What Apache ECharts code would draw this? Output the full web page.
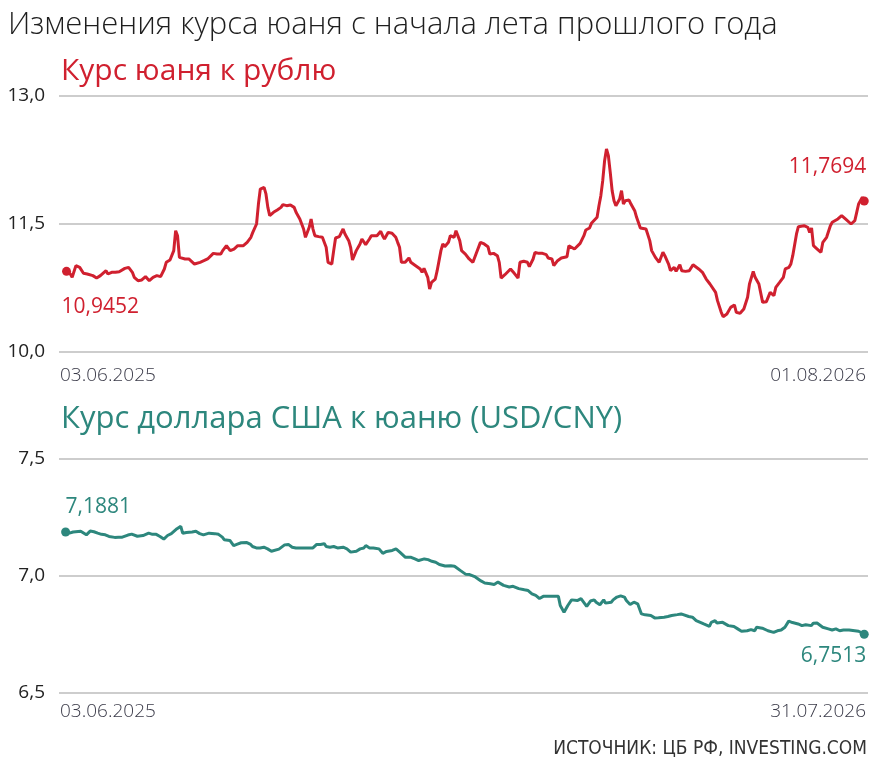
<!DOCTYPE html>
<html>
<head>
<meta charset="utf-8">
<script src="https://cdn.jsdelivr.net/npm/echarts@6/dist/echarts.min.js"></script>
<style>
  html, body { margin: 0; padding: 0; background: #fff; }
  #chart { width: 881px; height: 773px; }
</style>
</head>
<body>
<div id="chart"></div>
<script>
// курс юаня к рублю: день от 03.06.2025 и значение
const rubDays = [0, 2, 3, 5, 7, 9, 11, 12, 14, 16, 18, 19, 21, 22, 24, 26, 28, 31, 33, 35, 36, 38, 40, 42, 44, 46, 48, 50, 52, 53, 55, 57, 58, 59, 60, 63, 65, 66, 68, 69, 71, 73, 75, 76, 78, 80, 82, 83, 85, 87, 89, 91, 92, 94, 96, 98, 99, 101, 102, 103, 105, 106, 107, 108, 110, 112, 114, 115, 117, 119, 121, 122, 124, 126, 127, 128, 129, 130, 131, 132, 134, 136, 138, 139, 141, 142, 143, 145, 147, 148, 150, 151, 152, 154, 155, 156, 157, 159, 161, 162, 165, 167, 168, 169, 171, 173, 175, 176, 177, 178, 180, 182, 183, 185, 186, 188, 189, 190, 192, 193, 194, 196, 197, 199, 200, 201, 203, 204, 206, 207, 208, 209, 210, 212, 213, 214, 216, 217, 218, 220, 222, 224, 225, 227, 229, 230, 231, 233, 236, 238, 240, 241, 243, 245, 246, 248, 249, 251, 253, 255, 256, 258, 259, 261, 263, 264, 266, 267, 268, 270, 271, 273, 275, 276, 278, 279, 280, 282, 283, 284, 285, 286, 287, 288, 289, 290, 291, 292, 293, 294, 295, 296, 297, 299, 300, 302, 303, 305, 306, 308, 310, 311, 313, 315, 316, 317, 318, 320, 321, 323, 324, 326, 327, 329, 331, 333, 334, 336, 338, 340, 342, 343, 345, 346, 348, 349, 351, 353, 355, 356, 358, 360, 362, 363, 365, 366, 368, 370, 372, 373, 374, 376, 377, 379, 380, 381, 382, 384, 385, 386, 388, 389, 390, 392, 394, 395, 396, 397, 398, 399, 401, 402, 403, 404, 406, 407, 408, 410, 412, 413, 414, 415, 417, 419, 420, 421, 423, 424]
const rubValues = [10.9452, 10.914, 10.875, 11.012, 10.992, 10.922, 10.914, 10.906, 10.895, 10.867, 10.895, 10.875, 10.953, 10.914, 10.934, 10.934, 10.941, 10.98, 10.992, 10.934, 10.875, 10.836, 10.844, 10.883, 10.836, 10.875, 10.895, 10.883, 10.973, 11.051, 11.078, 11.188, 11.422, 11.363, 11.109, 11.09, 11.09, 11.109, 11.031, 11.051, 11.051, 11.07, 11.09, 11.109, 11.156, 11.148, 11.148, 11.188, 11.246, 11.188, 11.207, 11.246, 11.266, 11.246, 11.285, 11.344, 11.402, 11.5, 11.734, 11.91, 11.93, 11.852, 11.695, 11.598, 11.637, 11.664, 11.695, 11.727, 11.715, 11.723, 11.695, 11.637, 11.559, 11.441, 11.344, 11.363, 11.461, 11.559, 11.441, 11.363, 11.352, 11.344, 11.227, 11.051, 11.031, 11.188, 11.336, 11.352, 11.441, 11.383, 11.305, 11.227, 11.078, 11.188, 11.188, 11.266, 11.324, 11.258, 11.324, 11.363, 11.363, 11.414, 11.363, 11.324, 11.402, 11.391, 11.344, 11.285, 11.227, 11.051, 11.051, 11.102, 11.051, 11.02, 11.0, 10.973, 10.934, 10.98, 10.875, 10.738, 10.816, 10.855, 10.953, 11.188, 11.266, 11.234, 11.285, 11.363, 11.344, 11.422, 11.441, 11.305, 11.188, 11.148, 11.168, 11.09, 11.051, 11.051, 11.168, 11.285, 11.266, 11.234, 11.148, 11.156, 11.129, 11.051, 10.867, 10.906, 10.973, 10.922, 10.867, 11.051, 11.063, 11.051, 11.0, 11.09, 11.168, 11.156, 11.156, 11.141, 11.102, 11.09, 11.012, 11.07, 11.102, 11.109, 11.117, 11.246, 11.234, 11.207, 11.227, 11.273, 11.363, 11.43, 11.453, 11.508, 11.508, 11.578, 11.715, 11.832, 12.008, 12.242, 12.379, 12.301, 12.105, 11.891, 11.773, 11.715, 11.703, 11.793, 11.891, 11.734, 11.773, 11.781, 11.734, 11.656, 11.578, 11.453, 11.469, 11.441, 11.305, 11.188, 11.109, 11.051, 11.039, 11.168, 11.129, 11.031, 10.953, 10.992, 10.945, 11.023, 10.953, 10.945, 10.953, 11.023, 11.012, 10.973, 10.934, 10.855, 10.797, 10.777, 10.699, 10.602, 10.465, 10.414, 10.445, 10.523, 10.551, 10.465, 10.453, 10.504, 10.641, 10.797, 10.945, 10.875, 10.797, 10.582, 10.59, 10.609, 10.699, 10.66, 10.758, 10.816, 10.816, 10.875, 10.973, 10.992, 11.031, 11.129, 11.383, 11.469, 11.488, 11.48, 11.461, 11.402, 11.453, 11.246, 11.227, 11.207, 11.168, 11.285, 11.305, 11.344, 11.48, 11.52, 11.539, 11.559, 11.598, 11.598, 11.559, 11.559, 11.5, 11.539, 11.637, 11.734, 11.813, 11.7694]

// курс доллара к юаню
const usdDays = [0, 2, 4, 5, 8, 9, 11, 13, 15, 17, 19, 21, 23, 24, 26, 28, 30, 31, 33, 35, 38, 39, 41, 44, 46, 48, 50, 52, 54, 56, 57, 59, 61, 62, 64, 67, 69, 71, 73, 76, 77, 79, 81, 83, 84, 87, 89, 91, 93, 96, 98, 99, 101, 103, 105, 107, 109, 110, 113, 114, 116, 118, 120, 122, 124, 128, 131, 133, 135, 137, 138, 140, 142, 144, 145, 147, 149, 151, 152, 154, 156, 158, 159, 161, 163, 166, 168, 170, 173, 175, 177, 180, 183, 185, 187, 190, 192, 194, 196, 198, 201, 204, 206, 209, 212, 214, 217, 220, 222, 225, 227, 229, 232, 235, 237, 240, 243, 245, 247, 249, 251, 253, 257, 261, 262, 264, 266, 268, 271, 273, 274, 276, 278, 280, 281, 283, 285, 286, 289, 290, 292, 294, 296, 297, 299, 301, 303, 305, 307, 310, 312, 314, 317, 319, 321, 324, 326, 327, 330, 332, 334, 335, 338, 341, 342, 344, 345, 348, 349, 351, 354, 356, 358, 361, 363, 365, 366, 367, 369, 372, 373, 375, 377, 379, 381, 383, 385, 388, 390, 392, 395, 396, 398, 401, 404, 406, 408, 410, 412, 415, 418, 420, 422, 423]
const usdValues = [7.1881, 7.183, 7.188, 7.181, 7.191, 7.195, 7.176, 7.192, 7.189, 7.183, 7.178, 7.176, 7.169, 7.166, 7.165, 7.166, 7.166, 7.168, 7.175, 7.179, 7.17, 7.168, 7.173, 7.183, 7.178, 7.178, 7.169, 7.158, 7.173, 7.181, 7.188, 7.202, 7.212, 7.183, 7.186, 7.188, 7.191, 7.181, 7.176, 7.183, 7.186, 7.181, 7.178, 7.166, 7.155, 7.152, 7.13, 7.136, 7.142, 7.143, 7.135, 7.126, 7.12, 7.12, 7.123, 7.116, 7.106, 7.113, 7.115, 7.115, 7.133, 7.135, 7.123, 7.12, 7.12, 7.12, 7.12, 7.135, 7.135, 7.138, 7.126, 7.123, 7.126, 7.12, 7.126, 7.123, 7.116, 7.102, 7.095, 7.106, 7.116, 7.12, 7.13, 7.12, 7.12, 7.116, 7.097, 7.105, 7.109, 7.116, 7.102, 7.08, 7.08, 7.073, 7.066, 7.073, 7.07, 7.063, 7.059, 7.049, 7.043, 7.044, 7.042, 7.024, 7.007, 7.006, 6.996, 6.979, 6.97, 6.967, 6.964, 6.974, 6.96, 6.953, 6.956, 6.946, 6.941, 6.938, 6.924, 6.917, 6.904, 6.913, 6.913, 6.913, 6.874, 6.845, 6.874, 6.898, 6.895, 6.903, 6.91, 6.87, 6.893, 6.898, 6.888, 6.877, 6.898, 6.884, 6.888, 6.898, 6.91, 6.915, 6.91, 6.895, 6.878, 6.888, 6.881, 6.838, 6.834, 6.831, 6.821, 6.822, 6.824, 6.827, 6.831, 6.835, 6.838, 6.835, 6.827, 6.824, 6.809, 6.802, 6.795, 6.785, 6.802, 6.809, 6.799, 6.802, 6.795, 6.788, 6.784, 6.774, 6.764, 6.766, 6.771, 6.766, 6.781, 6.774, 6.777, 6.766, 6.759, 6.759, 6.766, 6.769, 6.781, 6.807, 6.801, 6.795, 6.788, 6.792, 6.788, 6.798, 6.799, 6.781, 6.774, 6.769, 6.774, 6.766, 6.769, 6.769, 6.766, 6.764, 6.756, 6.7513]

const rubTicks = [10, 11.5, 13]
const usdTicks = [6.5, 7, 7.5]
const rubDateLabels = ['03.06.2025', '01.08.2026']
const usdDateLabels = ['03.06.2025', '31.07.2026']
const rubEndLabels = ['10,9452', '11,7694']
const usdEndLabels = ['7,1881', '6,7513']

const RED = '#d0202f'
const TEAL = '#2d877d'
const FONT = '"Open Sans", "Noto Sans", sans-serif'

const fmt = (v) => v.toFixed(1).replace('.', ',')

const endPoint = (text, color, label) => ({
  symbol: 'circle',
  symbolSize: 9,
  itemStyle: { color },
  label: Object.assign({ show: true, formatter: text, color, fontSize: 21, fontFamily: FONT }, label),
})

const buildData = (days, values, labels, color, first, last) =>
  days.map((d, i) => {
    if (i === 0) return Object.assign({ value: [d, values[i]] }, endPoint(labels[0], color, first))
    if (i === days.length - 1) return Object.assign({ value: [d, values[i]] }, endPoint(labels[1], color, last))
    return { value: [d, values[i]] }
  })

const yAxisOf = (ticks, gridIndex) => ({
  type: 'value',
  gridIndex,
  min: ticks[0],
  max: ticks[ticks.length - 1],
  interval: ticks[1] - ticks[0],
  axisLine: { show: false },
  axisTick: { show: false },
  axisLabel: { formatter: fmt, color: '#222', fontSize: 19, fontFamily: FONT, margin: 14 },
  splitLine: { lineStyle: { color: '#bdbdbd', width: 1.5 } },
})

const xAxisOf = (gridIndex, min, max) => ({
  type: 'value',
  gridIndex,
  min,
  max,
  axisLine: { show: false },
  axisTick: { show: false },
  axisLabel: { show: false },
  splitLine: { show: false },
})

const dateText = (text, x, y, align) => ({
  type: 'text',
  x,
  y,
  style: { text, fill: '#3a3a48', font: '300 19px ' + FONT, textAlign: align },
})

const chart = echarts.init(document.getElementById('chart'))
chart.setOption({
  animation: false,
  title: [
    { text: 'Изменения курса юаня с начала лета прошлого года', left: 8, top: 10, padding: 0,
      textStyle: { fontSize: 31, fontWeight: 300, color: '#1e1e1e', fontFamily: FONT } },
    { text: 'Курс юаня к рублю', left: 61, top: 56, padding: 0,
      textStyle: { fontSize: 30, fontWeight: 400, color: RED, fontFamily: FONT } },
    { text: 'Курс доллара США к юаню (USD/CNY)', left: 61, top: 404, padding: 0,
      textStyle: { fontSize: 31, fontWeight: 400, color: TEAL, fontFamily: FONT } },
    { text: 'ИСТОЧНИК: ЦБ РФ, INVESTING.COM', right: 14, top: 740, padding: 0,
      textStyle: { fontSize: 19, fontWeight: 300, color: '#333', fontFamily: '"Liberation Sans Narrow", "DejaVu Sans Condensed", ' + FONT } },
  ],
  grid: [
    { left: 59, right: 13, top: 96, height: 256 },
    { left: 59, right: 13, top: 459, height: 234 },
  ],
  xAxis: [xAxisOf(0, -4, 426), xAxisOf(1, -3.5, 425)],
  yAxis: [yAxisOf(rubTicks, 0), yAxisOf(usdTicks, 1)],
  graphic: [
    dateText(rubDateLabels[0], 60, 366, 'left'),
    dateText(rubDateLabels[1], 866, 366, 'right'),
    dateText(usdDateLabels[0], 60, 702, 'left'),
    dateText(usdDateLabels[1], 866, 702, 'right'),
  ],
  series: [
    {
      type: 'line',
      xAxisIndex: 0,
      yAxisIndex: 0,
      symbol: 'circle',
      symbolSize: 0,
      showAllSymbol: true,
      lineStyle: { color: RED, width: 3 },
      itemStyle: { color: RED },
      data: buildData(rubDays, rubValues, rubEndLabels, RED,
        { position: 'bottom', distance: 21, align: 'left', offset: [-5, 0] },
        { position: 'top', distance: 19, align: 'right', offset: [2, 0] }),
    },
    {
      type: 'line',
      xAxisIndex: 1,
      yAxisIndex: 1,
      symbol: 'circle',
      symbolSize: 0,
      showAllSymbol: true,
      lineStyle: { color: TEAL, width: 3 },
      itemStyle: { color: TEAL },
      data: buildData(usdDays, usdValues, usdEndLabels, TEAL,
        { position: 'top', distance: 10, align: 'left', offset: [0, 0] },
        { position: 'bottom', distance: 7, align: 'right', offset: [2, 0] }),
    },
  ],
})
</script>
</body>
</html>
